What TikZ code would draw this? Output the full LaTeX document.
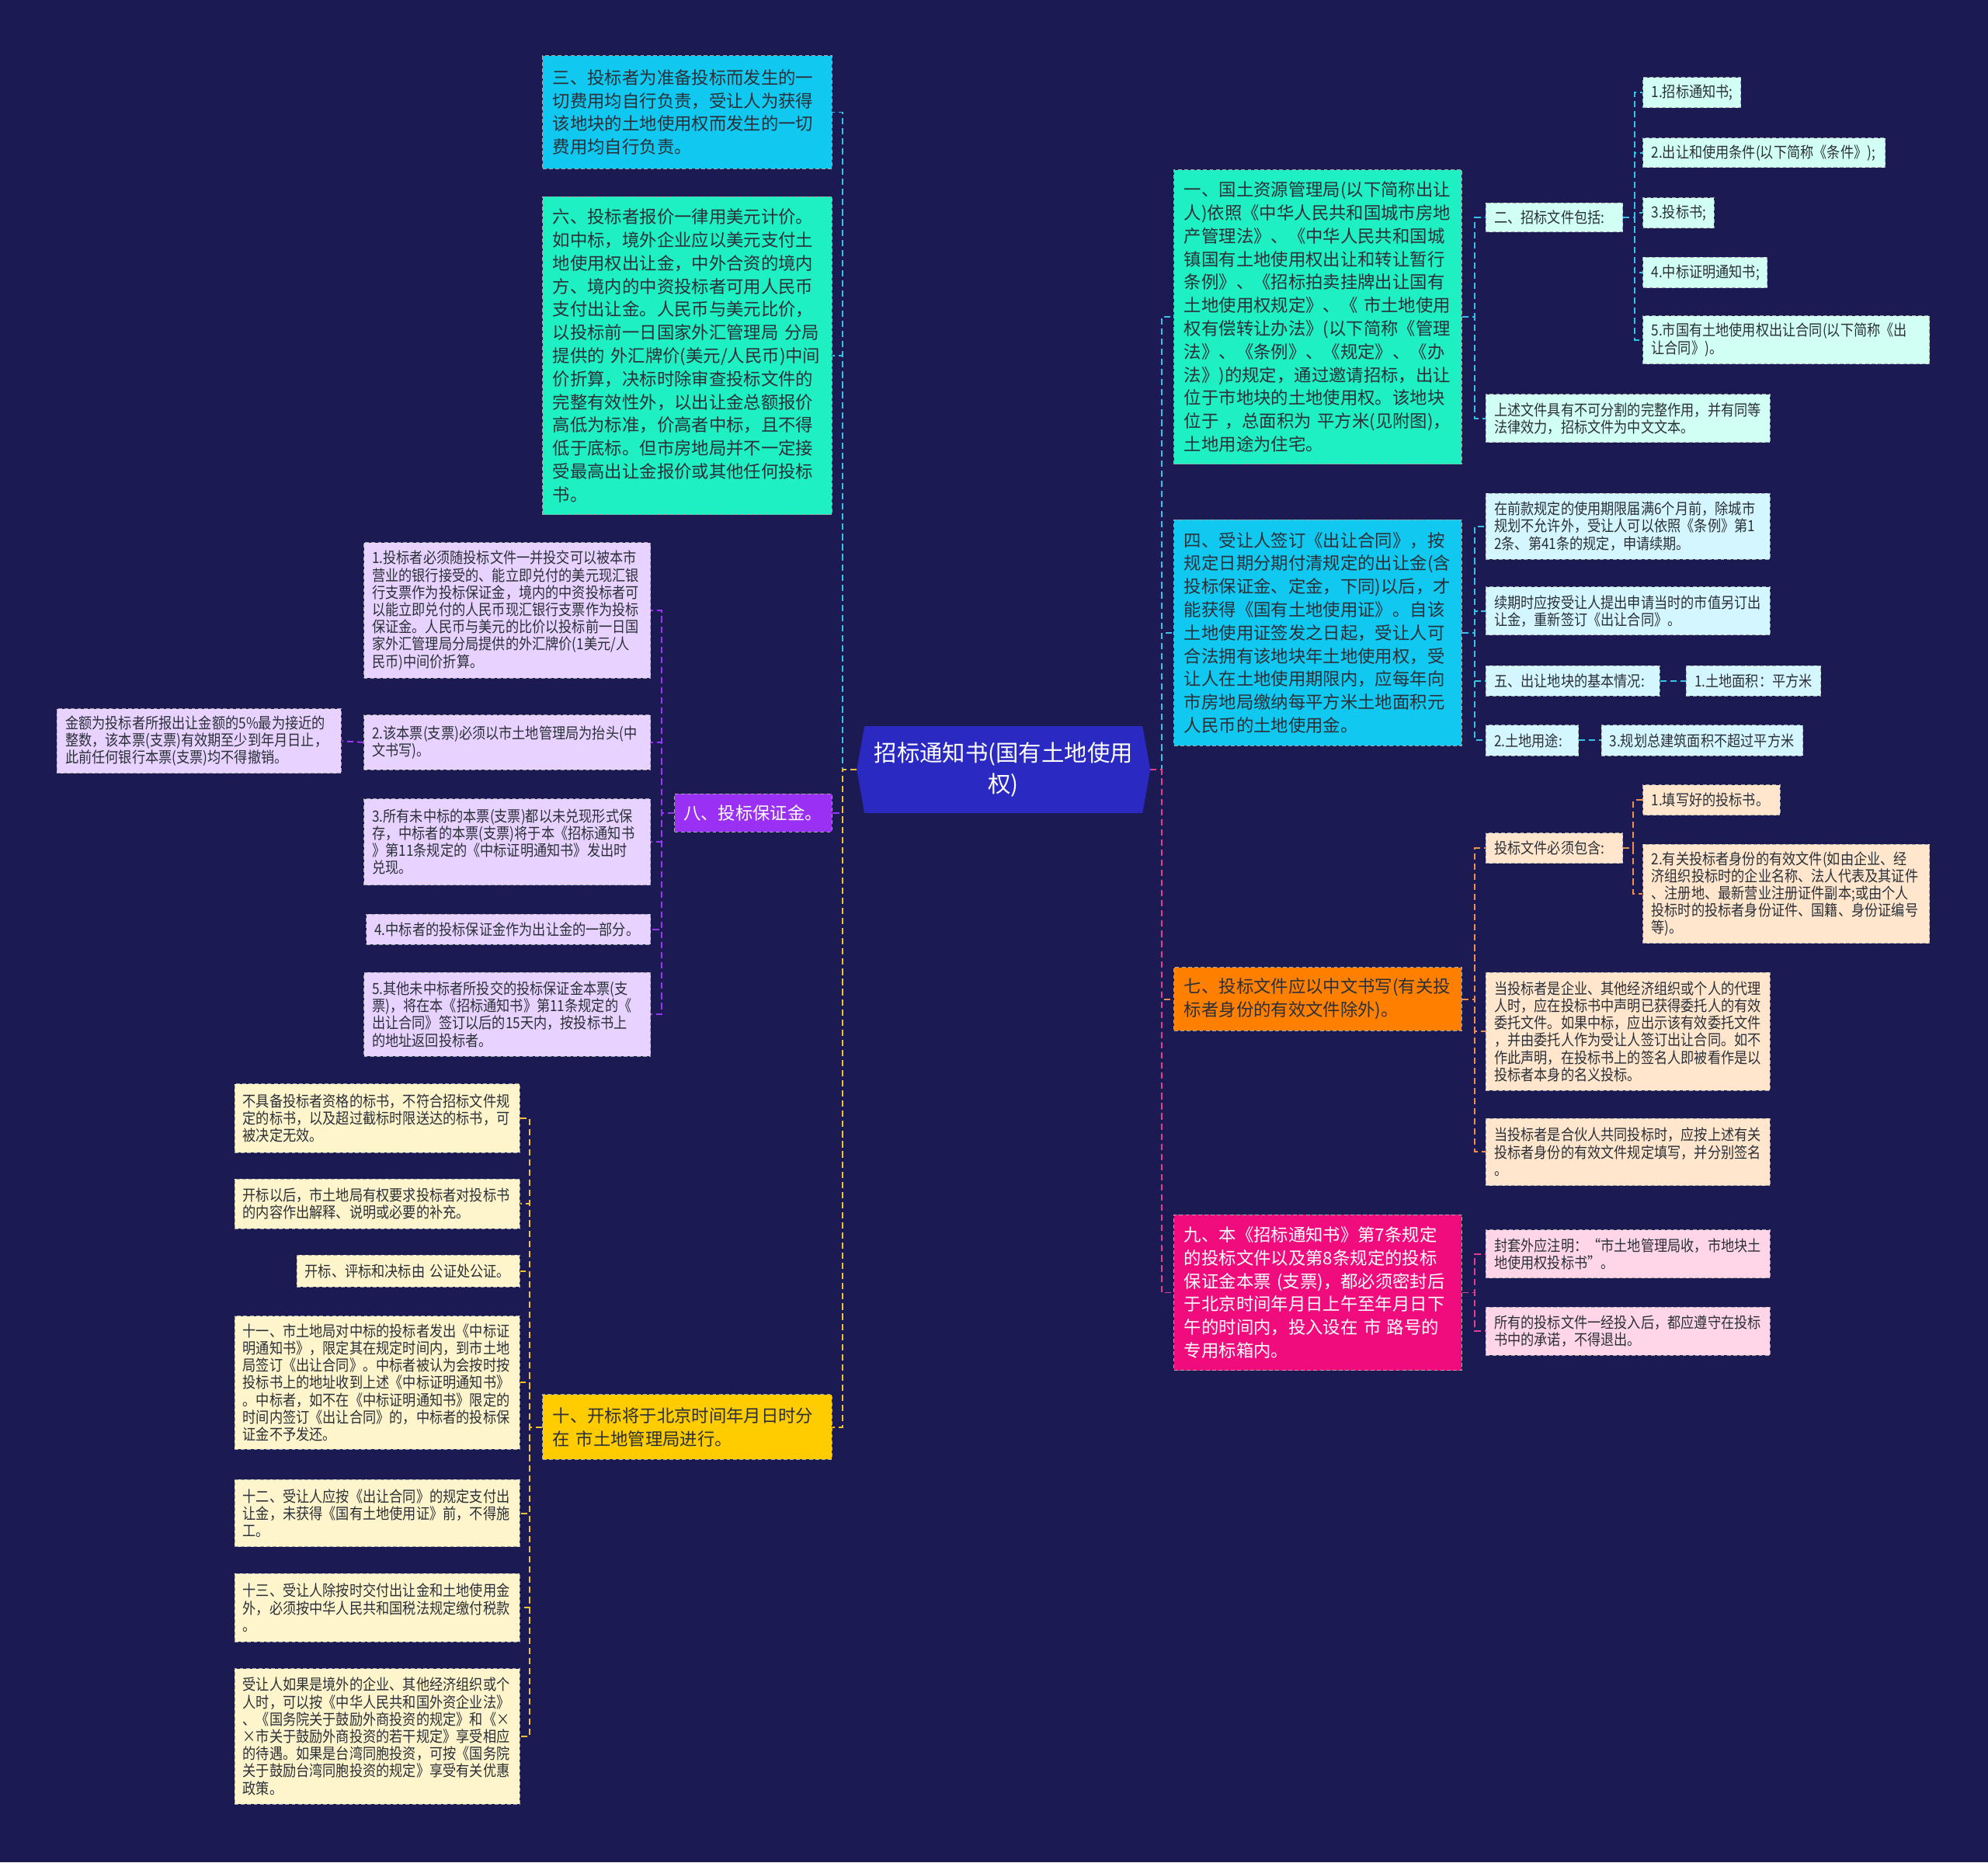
\documentclass[tikz,border=0pt]{standalone}
\usepackage{fontspec}
\newfontfamily\cjk{Noto Sans CJK SC}
\newfontfamily\cjkn[FakeStretch=0.87]{Noto Sans CJK SC}
\usetikzlibrary{backgrounds}
\definecolor{bg}{HTML}{1B1A52}
\definecolor{centerc}{HTML}{2A2AC2}
\definecolor{turq}{HTML}{1EF0C3}
\definecolor{sky}{HTML}{10C8F0}
\definecolor{orng}{HTML}{FF8000}
\definecolor{mgnt}{HTML}{F00C7C}
\definecolor{purp}{HTML}{9B30F5}
\definecolor{gold}{HTML}{FFCC00}
\definecolor{cmint}{HTML}{D2FFF4}
\definecolor{cblue}{HTML}{D4F6FF}
\definecolor{cpeach}{HTML}{FFE6CC}
\definecolor{cpink}{HTML}{FFD6E8}
\definecolor{clav}{HTML}{E8D2FF}
\definecolor{ccream}{HTML}{FFF5CC}
\definecolor{txt}{HTML}{2B3038}
\definecolor{cyanl}{HTML}{35C3E6}
\definecolor{purl}{HTML}{9A36F0}
\definecolor{yell}{HTML}{F2C230}
\definecolor{orl}{HTML}{F09050}
\definecolor{mgl}{HTML}{E0408F}
\tikzset{
  bigbox/.style={rectangle, inner xsep=8pt, inner ysep=1pt, align=left, text=txt,
    font=\cjk\fontsize{13.7}{18.25}\selectfont, draw=black!35, line width=0.6pt,
    dash pattern=on 3pt off 2pt},
  smallbox/.style={rectangle, inner xsep=6.5pt, inner ysep=1pt, align=left, text=txt,
    font=\cjkn\fontsize{12.1}{13.6}\selectfont, draw=black!35, line width=0.6pt,
    dash pattern=on 3pt off 2pt},
  bsz/.style n args={3}{minimum width=#1pt, minimum height=#2pt, text width=#3pt},
  cline/.style={draw=#1, line width=1.2pt, dash pattern=on 5pt off 3pt},
}
\begin{document}
\begin{tikzpicture}[x=1pt,y=-1pt]
\useasboundingbox (0,0) rectangle (1568,1469);

% center
\node[align=center, text=white, font=\cjk\fontsize{18}{24}\selectfont,
  minimum width=231pt, minimum height=68pt, inner sep=0pt] (c) at (791.5,607)
  {招标通知书(国有土地使用\\权)};

% ---------- left side ----------
\node[bigbox, fill=sky, bsz={228}{89}{212}] (n3) at (542,88.5)
{三、投标者为准备投标而发生的一\\切费用均自行负责，受让人为获得\\该地块的土地使用权而发生的一切\\费用均自行负责。};

\node[bigbox, fill=turq, bsz={228}{251}{212}] (n6) at (542,280.5)
{六、投标者报价一律用美元计价。\\如中标，境外企业应以美元支付土\\地使用权出让金，中外合资的境内\\方、境内的中资投标者可用人民币\\支付出让金。人民币与美元比价，\\以投标前一日国家外汇管理局~分局\\提供的~外汇牌价(美元/人民币)中间\\价折算，决标时除审查投标文件的\\完整有效性外，以出让金总额报价\\高低为标准，价高者中标，且不得\\低于底标。但市房地局并不一定接\\受最高出让金报价或其他任何投标\\书。};

\node[bigbox, fill=purp, text=white, inner xsep=7pt, bsz={124}{30}{110}] (n8) at (594,641)
{八、投标保证金。};

\node[smallbox, fill=clav, bsz={226}{107}{213}] (p1) at (400,481.5)
{1.投标者必须随投标文件一并投交可以被本市\\营业的银行接受的、能立即兑付的美元现汇银\\行支票作为投标保证金，境内的中资投标者可\\以能立即兑付的人民币现汇银行支票作为投标\\保证金。人民币与美元的比价以投标前一日国\\家外汇管理局分局提供的外汇牌价(1美元/人\\民币)中间价折算。};
\node[smallbox, fill=clav, bsz={226}{43}{213}] (p2) at (400,585.5)
{2.该本票(支票)必须以市土地管理局为抬头(中\\文书写)。};
\node[smallbox, fill=clav, bsz={224}{51}{211}] (p2a) at (157,584.5)
{金额为投标者所报出让金额的5\%最为接近的\\整数，该本票(支票)有效期至少到年月日止，\\此前任何银行本票(支票)均不得撤销。};
\node[smallbox, fill=clav, bsz={226}{68}{213}] (p3) at (400,664)
{3.所有未中标的本票(支票)都以未兑现形式保\\存，中标者的本票(支票)将于本《招标通知书\\》第11条规定的《中标证明通知书》发出时\\兑现。};
\node[smallbox, fill=clav, bsz={224}{24}{211}] (p4) at (401,733)
{4.中标者的投标保证金作为出让金的一部分。};
\node[smallbox, fill=clav, bsz={226}{66}{213}] (p5) at (400,800)
{5.其他未中标者所投交的投标保证金本票(支\\票)，将在本《招标通知书》第11条规定的《\\出让合同》签订以后的15天内，按投标书上\\的地址返回投标者。};

\node[bigbox, fill=gold, bsz={228}{51}{212}] (n10) at (542,1125.5)
{十、开标将于北京时间年月日时分\\在~市土地管理局进行。};

\node[smallbox, fill=ccream, bsz={225}{54}{212}] (y1) at (297.5,882)
{不具备投标者资格的标书，不符合招标文件规\\定的标书，以及超过截标时限送达的标书，可\\被决定无效。};
\node[smallbox, fill=ccream, bsz={225}{39}{212}] (y2) at (297.5,949.5)
{开标以后，市土地局有权要求投标者对投标书\\的内容作出解释、说明或必要的补充。};
\node[smallbox, fill=ccream, bsz={176}{25}{163}] (y3) at (322,1002.5)
{开标、评标和决标由~公证处公证。};
\node[smallbox, fill=ccream, bsz={225}{105}{212}] (y4) at (297.5,1090.5)
{十一、市土地局对中标的投标者发出《中标证\\明通知书》，限定其在规定时间内，到市土地\\局签订《出让合同》。中标者被认为会按时按\\投标书上的地址收到上述《中标证明通知书》\\。中标者，如不在《中标证明通知书》限定的\\时间内签订《出让合同》的，中标者的投标保\\证金不予发还。};
\node[smallbox, fill=ccream, bsz={225}{53}{212}] (y5) at (297.5,1193.5)
{十二、受让人应按《出让合同》的规定支付出\\让金，未获得《国有土地使用证》前，不得施\\工。};
\node[smallbox, fill=ccream, bsz={225}{54}{212}] (y6) at (297.5,1268)
{十三、受让人除按时交付出让金和土地使用金\\外，必须按中华人民共和国税法规定缴付税款\\。};
\node[smallbox, fill=ccream, bsz={225}{107}{212}] (y7) at (297.5,1369.5)
{受让人如果是境外的企业、其他经济组织或个\\人时，可以按《中华人民共和国外资企业法》\\、《国务院关于鼓励外商投资的规定》和《×\\×市关于鼓励外商投资的若干规定》享受相应\\的待遇。如果是台湾同胞投资，可按《国务院\\关于鼓励台湾同胞投资的规定》享受有关优惠\\政策。};

% ---------- right side ----------
\node[bigbox, fill=turq, bsz={227}{232}{211}] (n1) at (1039.5,250)
{一、国土资源管理局(以下简称出让\\人)依照《中华人民共和国城市房地\\产管理法》、《中华人民共和国城\\镇国有土地使用权出让和转让暂行\\条例》、《招标拍卖挂牌出让国有\\土地使用权规定》、《~市土地使用\\权有偿转让办法》(以下简称《管理\\法》、《条例》、《规定》、《办\\法》)的规定，通过邀请招标，出让\\位于市地块的土地使用权。该地块\\位于~，总面积为~平方米(见附图)，\\土地用途为住宅。};

\node[smallbox, fill=cmint, bsz={108}{23}{95}] (n2) at (1226,171.5) {二、招标文件包括:};
\node[smallbox, fill=cmint, bsz={77}{24}{64}] (a1) at (1334.5,73) {1.招标通知书;};
\node[smallbox, fill=cmint, bsz={191}{23}{178}] (a2) at (1391.5,120.5) {2.出让和使用条件(以下简称《条件》);};
\node[smallbox, fill=cmint, bsz={56}{24}{43}] (a3) at (1324,168) {3.投标书;};
\node[smallbox, fill=cmint, bsz={98}{24}{85}] (a4) at (1345,215) {4.中标证明通知书;};
\node[smallbox, fill=cmint, bsz={226}{38}{213}] (a5) at (1409,268)
{5.市国有土地使用权出让合同(以下简称《出\\让合同》)。};
\node[smallbox, fill=cmint, bsz={224}{38}{211}] (b1) at (1284,330)
{上述文件具有不可分割的完整作用，并有同等\\法律效力，招标文件为中文文本。};

\node[bigbox, fill=sky, bsz={227}{178}{211}] (n4) at (1039.5,499)
{四、受让人签订《出让合同》，按\\规定日期分期付清规定的出让金(含\\投标保证金、定金，下同)以后，才\\能获得《国有土地使用证》。自该\\土地使用证签发之日起，受让人可\\合法拥有该地块年土地使用权，受\\让人在土地使用期限内，应每年向\\市房地局缴纳每平方米土地面积元\\人民币的土地使用金。};

\node[smallbox, fill=cblue, bsz={224}{52}{211}] (c1) at (1284,415)
{在前款规定的使用期限届满6个月前，除城市\\规划不允许外，受让人可以依照《条例》第1\\2条、第41条的规定，申请续期。};
\node[smallbox, fill=cblue, bsz={224}{38}{211}] (c2) at (1284,482)
{续期时应按受让人提出申请当时的市值另订出\\让金，重新签订《出让合同》。};
\node[smallbox, fill=cblue, bsz={137}{24}{124}] (c3) at (1240.5,537) {五、出让地块的基本情况:};
\node[smallbox, fill=cblue, bsz={106}{24}{93}] (c3a) at (1383,537) {1.土地面积：平方米};
\node[smallbox, fill=cblue, bsz={73}{24}{60}] (c4) at (1208.5,584) {2.土地用途:};
\node[smallbox, fill=cblue, bsz={159}{24}{146}] (c4a) at (1342.5,584) {3.规划总建筑面积不超过平方米};

\node[bigbox, fill=orng, bsz={227}{50}{211}] (n7) at (1039.5,788)
{七、投标文件应以中文书写(有关投\\标者身份的有效文件除外)。};
\node[smallbox, fill=cpeach, bsz={108}{24}{95}] (d1) at (1226,669) {投标文件必须包含:};
\node[smallbox, fill=cpeach, bsz={108}{24}{95}] (d1a) at (1350,631) {1.填写好的投标书。};
\node[smallbox, fill=cpeach, bsz={226}{78}{213}] (d1b) at (1409,705)
{2.有关投标者身份的有效文件(如由企业、经\\济组织投标时的企业名称、法人代表及其证件\\、注册地、最新营业注册证件副本;或由个人\\投标时的投标者身份证件、国籍、身份证编号\\等)。};
\node[smallbox, fill=cpeach, bsz={224}{93}{211}] (d2) at (1284,813.5)
{当投标者是企业、其他经济组织或个人的代理\\人时，应在投标书中声明已获得委托人的有效\\委托文件。如果中标，应出示该有效委托文件\\，并由委托人作为受让人签订出让合同。如不\\作此声明，在投标书上的签名人即被看作是以\\投标者本身的名义投标。};
\node[smallbox, fill=cpeach, bsz={224}{53}{211}] (d3) at (1284,908.5)
{当投标者是合伙人共同投标时，应按上述有关\\投标者身份的有效文件规定填写，并分别签名\\。};

\node[bigbox, fill=mgnt, text=white, bsz={227}{123}{211}] (n9) at (1039.5,1019.5)
{九、本《招标通知书》第7条规定\\的投标文件以及第8条规定的投标\\保证金本票~(支票)，都必须密封后\\于北京时间年月日上午至年月日下\\午的时间内，投入设在~市~路号的\\专用标箱内。};
\node[smallbox, fill=cpink, bsz={224}{38}{211}] (e1) at (1284,989)
{封套外应注明：“市土地管理局收，市地块土\\地使用权投标书”。};
\node[smallbox, fill=cpink, bsz={224}{38}{211}] (e2) at (1284,1050)
{所有的投标文件一经投入后，都应遵守在投标\\书中的承诺，不得退出。};

% ---------- connectors ----------
\draw[cline=cyanl] (c.west) -- ++(-11,0) |- (n3.east);
\draw[cline=cyanl] (c.west) -- ++(-11,0) |- (n6.east);
\draw[cline=purl] (c.west) -- ++(-11,0) |- (n8.east);
\draw[cline=yell] (c.west) -- ++(-11,0) |- (n10.east);
\draw[cline=cyanl] (c.east) -- ++(9,0) |- (n1.west);
\draw[cline=cyanl] (c.east) -- ++(9,0) |- (n4.west);
\draw[cline=orl] (c.east) -- ++(9,0) |- (n7.west);
\draw[cline=mgl] (c.east) -- ++(9,0) |- (n9.west);

\foreach \t in {p1,p2,p3,p4,p5} \draw[cline=purl] (n8.west) -- ++(-10,0) |- (\t.east);
\draw[cline=purl] (p2.west) -- (p2a.east);
\foreach \t in {y1,y2,y3,y4,y5,y6,y7} \draw[cline=yell] (n10.west) -- ++(-10,0) |- (\t.east);

\foreach \t in {n2,b1} \draw[cline=cyanl] (n1.east) -- ++(10,0) |- (\t.west);
\foreach \t in {a1,a2,a3,a4,a5} \draw[cline=cyanl] (n2.east) -- ++(9,0) |- (\t.west);
\foreach \t in {c1,c2,c3,c4} \draw[cline=cyanl] (n4.east) -- ++(10,0) |- (\t.west);
\draw[cline=cyanl] (c3.east) -- (c3a.west);
\draw[cline=cyanl] (c4.east) -- (c4a.west);
\foreach \t in {d1,d2,d3} \draw[cline=orl] (n7.east) -- ++(10,0) |- (\t.west);
\foreach \t in {d1a,d1b} \draw[cline=orl] (d1.east) -- ++(8,0) |- (\t.west);
\foreach \t in {e1,e2} \draw[cline=mgl] (n9.east) -- ++(10,0) |- (\t.west);

% ---------- background ----------
\begin{scope}[on background layer]
\fill[bg] (0,0) rectangle (1568,1469);
\fill[centerc] ([xshift=6pt]c.north west) -- ([xshift=-6pt]c.north east) -- (c.east)
  -- ([xshift=-6pt]c.south east) -- ([xshift=6pt]c.south west) -- (c.west) -- cycle;
\end{scope}
\end{tikzpicture}
\end{document}
